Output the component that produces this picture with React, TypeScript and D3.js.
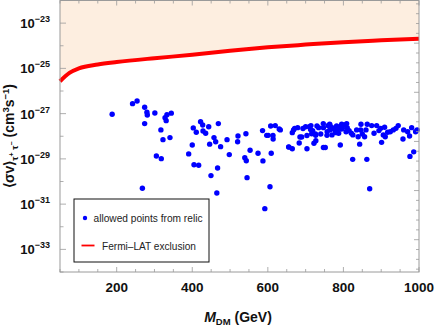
import * as React from "react";
import * as d3 from "d3";

// Fermi-LAT exclusion curve: DM mass (GeV) and log10 of <sigma v> (cm^3 s^-1)
const fermiMass = [50, 75, 100, 150, 200, 300, 400, 500, 600, 700, 800, 900, 1000];
const fermiLog = [-25.57, -25.2, -25.0, -24.83, -24.72, -24.55, -24.4, -24.22, -24.07, -23.95, -23.84, -23.76, -23.69];

// allowed points from relic: mass (GeV) and log10 <sigma v>
const pointMass = [
  188, 242, 254, 274, 280, 281, 274, 301, 333, 328, 331, 344.5, 317, 322.5, 341, 305, 318, 268,
  390.5, 400, 402.7, 410.6, 422, 427.6, 428.4, 435.5, 443.5, 446, 457.5, 462, 469, 475, 492, 498,
  521, 520, 404.6, 417, 449.5, 467, 465, 542, 553, 539, 543, 545, 574, 586, 587, 597, 601, 607.5,
  619.6, 613.6, 614, 609, 605.7, 592, 630, 633, 655, 664.7, 664.7, 671, 685, 689.5, 693, 700,
  703.5, 703.5, 714, 718.6, 716, 722, 727, 726.6, 734.5, 740, 746.7, 752, 756.5, 759, 763.6, 764,
  770.5, 769.7, 779.5, 783.7, 787.4, 791.7, 795.4, 797, 808.6, 810, 820.8, 825, 824.5, 835, 839,
  843, 846.5, 845.7, 850, 856, 859.7, 863, 862, 869.5, 874.8, 881, 888, 894, 898.6, 901, 905.5,
  909, 910.7, 917, 924, 932, 939, 945, 957.6, 959.5, 970, 975, 980.6, 986, 991, 995, 976,
  668, 679, 710, 713, 726, 730, 747, 757, 764, 776, 782, 789, 795, 802, 807, 815, 656, 683, 747,
];
const pointLog = [
  -27.03, -26.56, -26.44, -26.72, -26.94, -27.06, -27.44, -26.97, -27.05, -27.18, -27.31, -26.98,
  -27.72, -28.15, -28.06, -28.87, -28.99, -30.3, -28.78, -28.39, -27.63, -27.82, -27.36, -27.5,
  -27.77, -27.87, -27.58, -28.35, -28.06, -28.24, -27.44, -28.46, -28.15, -28.81, -27.99, -28.24,
  -29.26, -29.28, -29.74, -29.4, -30.51, -27.89, -28.62, -28.95, -29.08, -29.83, -28.75, -27.75,
  -29.09, -27.96, -27.96, -27.55, -27.53, -27.97, -28.12, -28.75, -30.23, -31.2, -27.68, -27.72,
  -28.47, -28.55, -27.84, -27.65, -28.03, -28.03, -27.66, -27.58, -27.97, -28.55, -27.53, -27.75,
  -27.89, -28.31, -28.2, -27.96, -27.62, -27.9, -27.44, -28.5, -27.96, -27.53, -27.47, -27.72,
  -27.62, -27.94, -27.84, -27.77, -27.87, -28.39, -27.47, -27.65, -27.44, -27.62, -27.87, -27.94,
  -29.02, -27.72, -28.02, -28.35, -27.47, -27.72, -27.9, -28.02, -27.72, -27.47, -29.02, -30.32,
  -27.53, -27.87, -27.53, -27.75, -27.65, -28.27, -27.94, -27.6, -28.02, -27.82, -27.8, -27.72,
  -27.65, -27.53, -28.12, -27.72, -27.8, -27.99, -27.62, -28.69, -27.8, -27.72, -28.89,
  -27.72, -27.62, -27.58, -27.7, -27.9, -27.55, -27.62, -27.8, -27.5, -27.7, -27.55, -27.6,
  -27.68, -27.5, -27.8, -27.75, -28.48, -28.3, -28.5,
];

const xTicks = [200, 400, 600, 800, 1000];
const yTickExps = [-23, -25, -27, -29, -31, -33];

const margin = { top: 0.5, right: 17, bottom: 55, left: 60 };
const width = 436;
const height = 327;

export default function App() {
  const x = d3.scaleLinear().domain([50, 1000]).range([margin.left, width - margin.right]);
  const y = d3.scaleLog().domain([1e-34, 1e-22]).range([height - margin.bottom, margin.top]);

  const [x0, x1] = x.range();
  const [yb, yt] = y.range();

  const fermi = fermiMass.map((m, i) => [m, Math.pow(10, fermiLog[i])] as [number, number]);
  const line = d3
    .line<[number, number]>()
    .x((d) => x(d[0]))
    .y((d) => y(d[1]))
    .curve(d3.curveMonotoneX);
  const area = d3
    .area<[number, number]>()
    .x((d) => x(d[0]))
    .y0(yt)
    .y1((d) => y(d[1]))
    .curve(d3.curveMonotoneX);

  const minorX = d3.range(50, 1001, 50);
  const decades = d3.range(-34, -21);
  const lnTicks = d3.range(Math.ceil(Math.log(1e-34)), Math.floor(Math.log(1e-22)) + 1);

  const axisColor = "#9a9a9a";
  const font = "'Liberation Sans', Arial, sans-serif";

  return (
    <svg
      width={width}
      height={height}
      style={{ position: "absolute", left: 0, top: 0, background: "#fff" }}
      fontFamily={font}
    >
      <path d={area(fermi) || ""} fill="#fdeee0" />

      {pointMass.map((m, i) => (
        <circle key={i} cx={x(m)} cy={y(Math.pow(10, pointLog[i]))} r={2.7} fill="#0000ff" />
      ))}

      <path d={line(fermi) || ""} fill="none" stroke="#ff0000" strokeWidth={4} />

      {/* frame */}
      <rect x={x0} y={yt} width={x1 - x0} height={yb - yt} fill="none" stroke={axisColor} strokeWidth={1} />

      {/* x ticks bottom and top */}
      {minorX.map((v) => {
        const len = xTicks.includes(v) ? 5 : 3;
        return (
          <g key={"xt" + v} stroke={axisColor} strokeWidth={0.8}>
            <line x1={x(v)} x2={x(v)} y1={yb} y2={yb - len} />
            <line x1={x(v)} x2={x(v)} y1={yt} y2={yt + len} />
          </g>
        );
      })}

      {/* y ticks left (decades) */}
      {decades.map((e) => {
        const len = yTickExps.includes(e) ? 6 : 3.5;
        return (
          <line key={"yt" + e} x1={x0} x2={x0 + len} y1={y(Math.pow(10, e))} y2={y(Math.pow(10, e))} stroke={axisColor} strokeWidth={0.8} />
        );
      })}

      {/* y ticks right (natural-log steps) */}
      {lnTicks.map((n) => {
        const len = n % 5 === 0 ? 5 : 3;
        const yy = y(Math.exp(n));
        return <line key={"rt" + n} x1={x1} x2={x1 - len} y1={yy} y2={yy} stroke={axisColor} strokeWidth={0.8} />;
      })}

      {/* x tick labels */}
      {xTicks.map((v) => (
        <text key={"xl" + v} x={x(v)} y={yb + 20} textAnchor="middle" fontSize={13.5} fontWeight="bold" fill="#111">
          {v}
        </text>
      ))}

      {/* y tick labels */}
      {yTickExps.map((e) => (
        <text key={"yl" + e} x={x0 - 10} y={y(Math.pow(10, e)) + 5} textAnchor="end" fontSize={13} fontWeight="bold" fill="#111">
          10
          <tspan fontSize={9} dy={-6}>
            {"\u2212" + Math.abs(e)}
          </tspan>
        </text>
      ))}

      {/* axis titles */}
      <text x={238} y={322} textAnchor="middle" fontSize={14} fontWeight="bold" fill="#111">
        <tspan fontStyle="italic">M</tspan>
        <tspan fontSize={9.5} dy={3}>DM</tspan>
        <tspan dy={-3}> (GeV)</tspan>
      </text>

      <text transform="translate(14,136) rotate(-90)" textAnchor="middle" fontSize={14} fontWeight="bold" fill="#111">
        {"\u27e8\u03c3v\u27e9"}
        <tspan fontSize={9.5} dy={3.5}>{"\u03c4"}</tspan>
        <tspan fontSize={7} dy={-4}>+</tspan>
        <tspan fontSize={9.5} dy={4}>{" \u03c4"}</tspan>
        <tspan fontSize={7} dy={-4}>{"\u2212"}</tspan>
        <tspan dy={0.5}>{" (cm"}</tspan>
        <tspan fontSize={9.5} dy={-5}>3</tspan>
        <tspan dy={5}>s</tspan>
        <tspan fontSize={9.5} dy={-5}>{"\u22121"}</tspan>
        <tspan dy={5}>)</tspan>
      </text>

      {/* legend */}
      <rect x={74} y={199} width={135} height={63} fill="#fff" stroke="#111" strokeWidth={1} />
      <circle cx={85} cy={218} r={2.2} fill="#0000ff" />
      <text x={93.5} y={222} fontSize={10.5} fill="#222" textLength={109} lengthAdjust="spacingAndGlyphs">
        allowed points from relic
      </text>
      <line x1={81.5} x2={94.5} y1={245.5} y2={245.5} stroke="#ff0000" strokeWidth={1.8} />
      <text x={102} y={249.5} fontSize={10.5} fill="#222" textLength={94} lengthAdjust="spacingAndGlyphs">
        Fermi–LAT exclusion
      </text>
    </svg>
  );
}
